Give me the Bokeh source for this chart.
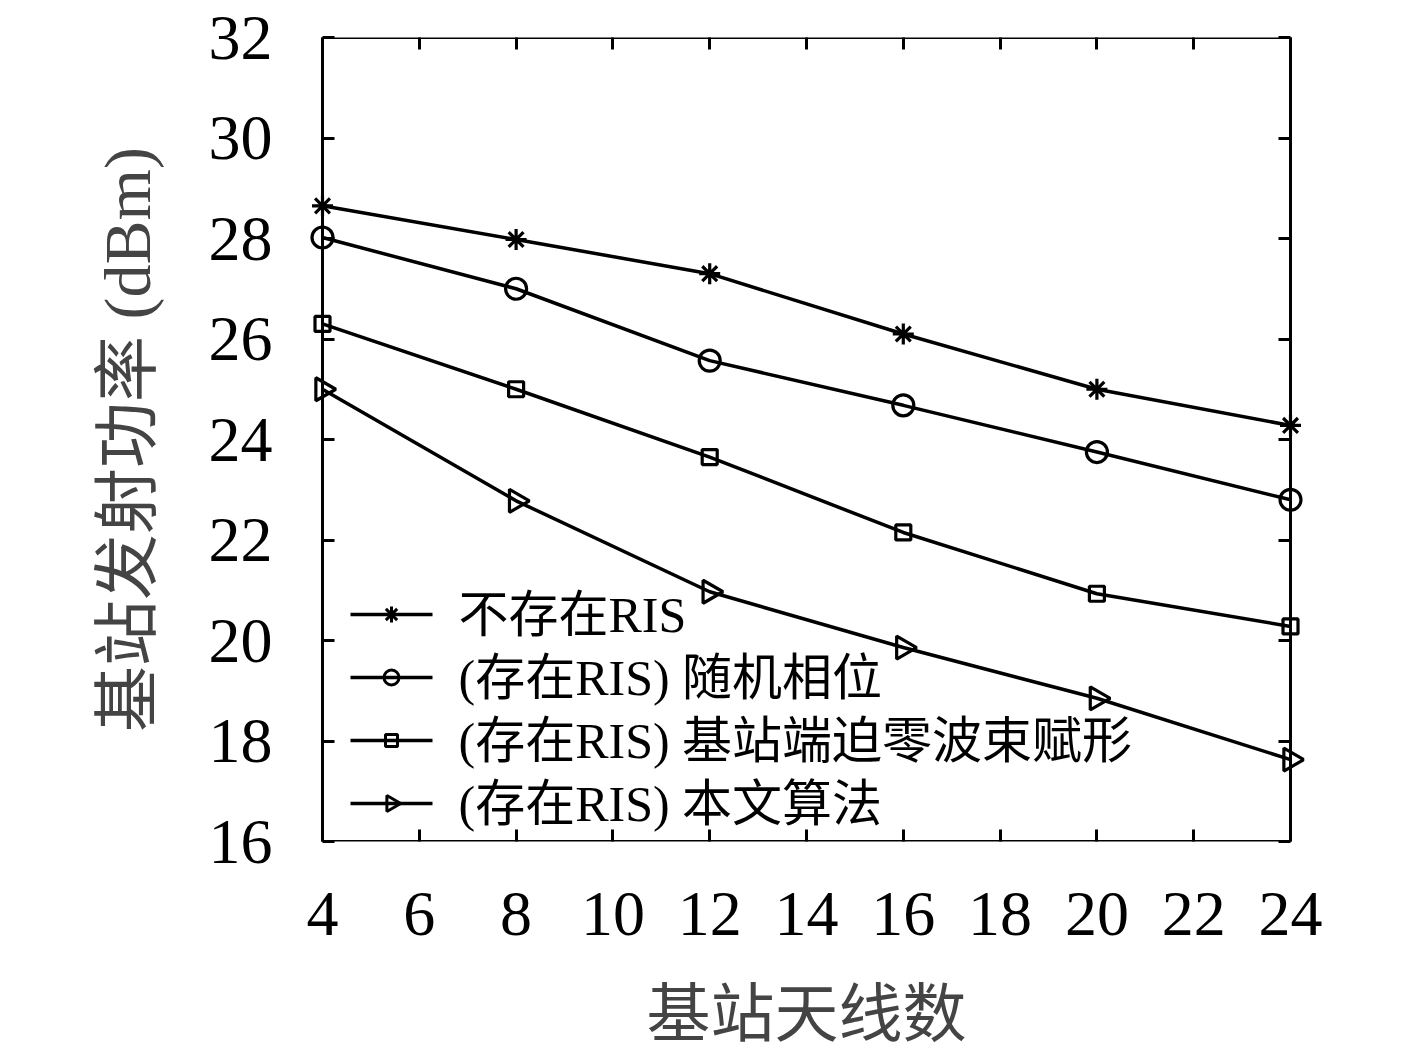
import math
from bokeh.plotting import figure
from bokeh.models import (ColumnDataSource, FixedTicker, LinearAxis, Label,
                          Range1d, BoxAnnotation)
from bokeh.embed import file_html
from bokeh.resources import INLINE

antennas = [4, 8, 12, 16, 20, 24]
no_ris = [28.65, 27.98, 27.3, 26.1, 25.0, 24.28]
ris_random = [28.02, 27.0, 25.57, 24.68, 23.75, 22.8]
ris_zf = [26.3, 25.0, 23.65, 22.15, 20.93, 20.28]
ris_proposed = [25.0, 22.78, 20.97, 19.86, 18.85, 17.63]

labels = ["不存在RIS", "(存在RIS) 随机相位", "(存在RIS) 基站端迫零波束赋形", "(存在RIS) 本文算法"]
x_ticks = [4, 6, 8, 10, 12, 14, 16, 18, 20, 22, 24]
y_ticks = [16, 18, 20, 22, 24, 26, 28, 30, 32]

SERIF = "'Liberation Serif', 'Noto Sans CJK SC'"

# layout (pixels): the visible box, plus a horizontal pad so edge markers are not clipped
W, H = 1417, 1053
BOX_L, BOX_R, BOX_T, BOX_B = 322, 1290, 37, 841
PAD = 14
BOX_W, BOX_H = BOX_R - BOX_L, BOX_B - BOX_T
X0, X1, Y0, Y1 = 4, 24, 16, 32
dx = PAD / BOX_W * (X1 - X0)

def px_to_x(px):
    return X0 + (px - BOX_L) / BOX_W * (X1 - X0)

def py_to_y(py):
    return Y0 + (BOX_B - py) / BOX_H * (Y1 - Y0)

p = figure(width=W, height=H, output_backend="svg", toolbar_location=None,
           x_range=Range1d(X0 - dx, X1 + dx), y_range=Range1d(Y0, Y1),
           min_border_left=BOX_L - PAD, min_border_right=W - BOX_R - PAD,
           min_border_top=BOX_T, min_border_bottom=H - BOX_B)
p.xgrid.visible = False
p.ygrid.visible = False
p.outline_line_color = None
p.background_fill_color = "white"
p.border_fill_color = "white"

def style_axis(ax, ticks, show_labels, pad):
    ax.ticker = FixedTicker(ticks=ticks)
    ax.minor_tick_line_color = None
    ax.major_tick_in = 12 + pad
    ax.major_tick_out = -pad
    ax.major_tick_line_width = 3
    ax.major_tick_line_color = "black"
    ax.axis_line_color = None
    if show_labels:
        ax.major_label_text_font = SERIF
        ax.major_label_text_font_size = "64px"
        ax.major_label_text_color = "black"
    else:
        ax.major_label_text_font_size = "1px"
        ax.major_label_text_color = None
        ax.major_label_standoff = 0

style_axis(p.xaxis[0], x_ticks, True, 0)
style_axis(p.yaxis[0], y_ticks, True, PAD)
p.xaxis[0].major_label_standoff = 51
p.yaxis[0].major_label_standoff = 50 - PAD
p.xaxis[0].axis_label = "基站天线数"
p.xaxis[0].axis_label_text_font = SERIF
p.xaxis[0].axis_label_text_font_size = "64px"
p.xaxis[0].axis_label_text_font_style = "normal"
p.xaxis[0].axis_label_standoff = 41
p.yaxis[0].axis_label = "基站发射功率 (dBm)"
p.yaxis[0].axis_label_text_font = SERIF
p.yaxis[0].axis_label_text_font_size = "66px"
p.yaxis[0].axis_label_text_font_style = "normal"
p.yaxis[0].axis_label_standoff = 42

top_ax = LinearAxis()
style_axis(top_ax, x_ticks, False, 0)
p.add_layout(top_ax, "above")
right_ax = LinearAxis()
style_axis(right_ax, y_ticks, False, PAD)
p.add_layout(right_ax, "right")

p.add_layout(BoxAnnotation(left=X0, right=X1, bottom=Y0, top=Y1, fill_alpha=0,
                           line_color="black", line_width=3, line_alpha=1))

series = [no_ris, ris_random, ris_zf, ris_proposed]
markers = ["asterisk", "circle", "square", "triangle"]
angles = [0, 0, 0, -math.pi / 2]
sizes = [21, 21, 15, 23]
leg_sizes = [16, 15, 12, 16]

# legend geometry (pixels)
LEG_L, LEG_R, LEG_TEXT = 350, 432, 458
LEG_ROW0, ROW_H = 614, 63

for k, (vals, mk, ang, sz, lsz, lab) in enumerate(zip(series, markers, angles, sizes, leg_sizes, labels)):
    src = ColumnDataSource(dict(x=antennas, y=vals))
    p.line("x", "y", source=src, line_color="black", line_width=3.5)
    p.scatter("x", "y", source=src, marker=mk, size=sz, angle=ang,
              line_color="black", line_width=3.2, fill_color=None)
    # legend entry
    ry = py_to_y(LEG_ROW0 + k * ROW_H)
    lsrc = ColumnDataSource(dict(x=[px_to_x(LEG_L), px_to_x(LEG_R)], y=[ry, ry]))
    p.line("x", "y", source=lsrc, line_color="black", line_width=3.5)
    msrc = ColumnDataSource(dict(x=[px_to_x((LEG_L + LEG_R) / 2)], y=[ry]))
    p.scatter("x", "y", source=msrc, marker=mk, size=lsz, angle=ang,
              line_color="black", line_width=3, fill_color=None)
    p.add_layout(Label(x=px_to_x(LEG_TEXT), y=ry, text=lab, text_font=SERIF,
                       text_font_size="50px", text_color="black",
                       text_baseline="middle", text_align="left"))

open("out.html", "w").write(file_html(p, INLINE))
